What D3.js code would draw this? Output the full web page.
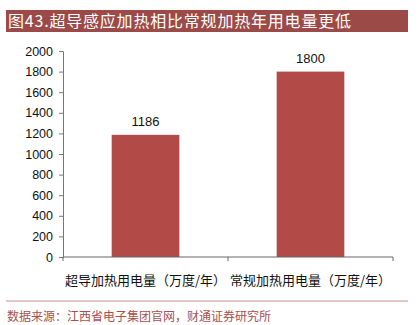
<!DOCTYPE html>
<html>
<head>
<meta charset="utf-8">
<script src="https://cdn.jsdelivr.net/npm/d3@7"></script>
<style>
  body { margin: 0; background: #fff; }
</style>
</head>
<body>
<script>
const categories = ["超导加热用电量（万度/年）", "常规加热用电量（万度/年）"];
const values = [1186, 1800];
const yTicks = [0, 200, 400, 600, 800, 1000, 1200, 1400, 1600, 1800, 2000];
const title = "图43.超导感应加热相比常规加热年用电量更低";
const source = "数据来源：江西省电子集团官网，财通证券研究所";

const width = 419, height = 325;
const cjk = "'Noto Sans CJK SC', sans-serif";
const num = "'Liberation Sans', Arial, sans-serif";

const svg = d3.select("body").append("svg")
  .attr("width", width)
  .attr("height", height);

// title bar
svg.append("rect")
  .attr("x", 6).attr("y", 10)
  .attr("width", 402).attr("height", 22)
  .attr("fill", "#9c4a47");
svg.append("text")
  .attr("x", 8).attr("y", 27)
  .attr("fill", "#fff")
  .attr("letter-spacing", 0.8)
  .style("font", `16px ${cjk}`)
  .text(title);

const x = d3.scaleBand().domain(categories).range([63, 393]).paddingInner(0.59).paddingOuter(0.295);
const y = d3.scaleLinear().domain([0, 2000]).range([257, 51]);

// bars
svg.append("g")
  .selectAll("rect")
  .data(values)
  .join("rect")
  .attr("x", (d, i) => x(categories[i]))
  .attr("y", d => y(d))
  .attr("width", x.bandwidth())
  .attr("height", d => y(0) - y(d))
  .attr("fill", "#b24a48");

// value labels
svg.append("g")
  .selectAll("text")
  .data(values)
  .join("text")
  .attr("x", (d, i) => x(categories[i]) + x.bandwidth() / 2)
  .attr("y", d => y(d) - 9)
  .attr("text-anchor", "middle")
  .style("font", `13px ${num}`)
  .attr("fill", "#111")
  .text(d => d);

// y axis
const yAxis = svg.append("g")
  .attr("transform", "translate(63,0)")
  .call(d3.axisLeft(y).tickValues(yTicks).tickFormat(d3.format("d")).tickSize(4).tickPadding(6));
yAxis.selectAll("text").style("font", `12.5px ${num}`).attr("fill", "#111");
yAxis.select(".domain").attr("stroke", "#777");
yAxis.selectAll(".tick line").attr("stroke", "#777");

// x axis with boundary ticks
svg.append("line")
  .attr("x1", 63).attr("x2", 393)
  .attr("y1", y(0)).attr("y2", y(0))
  .attr("stroke", "#666");
const bounds = [x.range()[0], ...categories.map(c => x(c) + x.bandwidth() / 2 + x.step() / 2)];
svg.append("g")
  .selectAll("line")
  .data(bounds)
  .join("line")
  .attr("x1", d => d).attr("x2", d => d)
  .attr("y1", y(0)).attr("y2", y(0) + 4)
  .attr("stroke", "#666");

svg.append("g")
  .selectAll("text")
  .data(categories)
  .join("text")
  .attr("x", d => x(d) + x.bandwidth() / 2)
  .attr("y", 285)
  .attr("text-anchor", "middle")
  .style("font", `13px ${cjk}`)
  .attr("fill", "#111")
  .text(d => d);

// bottom rule and source
svg.append("line")
  .attr("x1", 6).attr("x2", 408)
  .attr("y1", 301).attr("y2", 301)
  .attr("stroke", "#c9908e");
svg.append("text")
  .attr("x", 7).attr("y", 321)
  .attr("fill", "#a8504d")
  .style("font", `12px ${cjk}`)
  .text(source);
</script>
</body>
</html>
